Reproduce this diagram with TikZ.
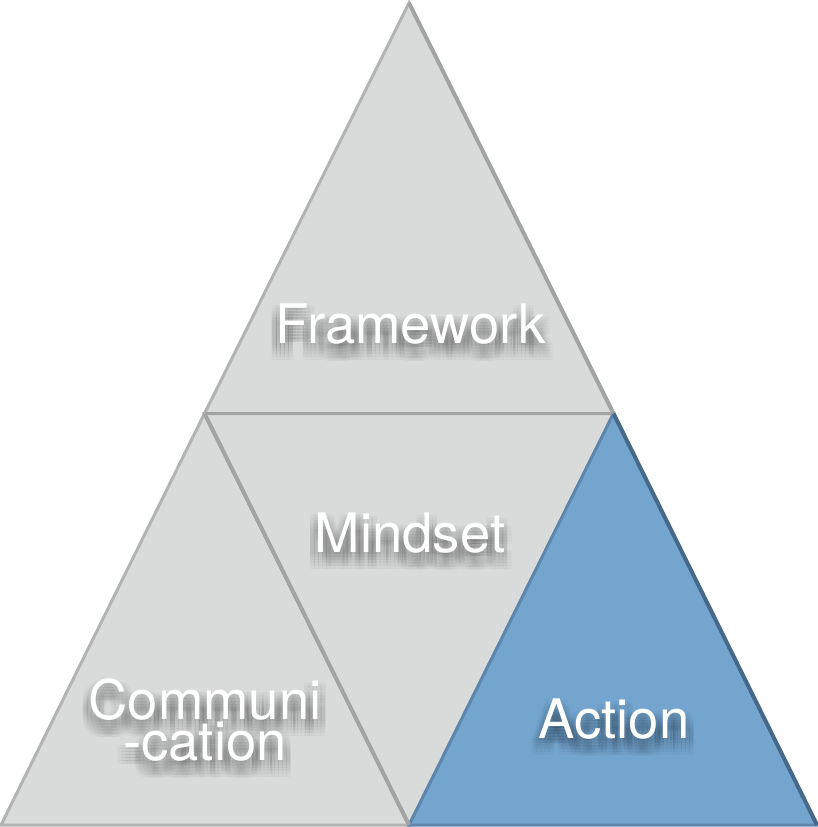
\documentclass[tikz,border=0pt]{standalone}
\usepackage{fontspec}
\setmainfont{TeX Gyre Heros}
\usetikzlibrary{calc}
\definecolor{tgray}{HTML}{D9DBDA}
\definecolor{tedge}{HTML}{B2B3B3}
\definecolor{tedgedark}{HTML}{A2A3A3}
\definecolor{tblue}{HTML}{74A5CF}
\definecolor{bedge}{HTML}{5D86AD}
\definecolor{bedgedark}{HTML}{46698A}
\tikzset{
  tri/.style={fill=tgray, draw=tedge, line width=3pt, line join=miter},
  btri/.style={fill=tblue, draw=bedge, line width=3pt, line join=miter},
  lbl/.style={text=white, font=\fontsize{54.5}{39}\selectfont, align=center, inner sep=0pt},
  shd/.style={lbl, text=black, opacity=0.022},
}
\begin{document}
\begin{tikzpicture}[x=1pt,y=-1pt]
\useasboundingbox (0,0) rectangle (818,827);
\coordinate (A) at (409,3);
\coordinate (B) at (204.5,413.5);
\coordinate (C) at (613.5,413.5);
\coordinate (D) at (1,825);
\coordinate (E) at (409,825);
\coordinate (F) at (817,825);
% triangles
\draw[tri] (A) -- (B) -- (C) -- cycle;
\draw[tri] (B) -- (D) -- (E) -- cycle;
\draw[tri] (B) -- (C) -- (E) -- cycle;
\draw[btri] (C) -- (E) -- (F) -- cycle;
% darker right edges (bevel)
\draw[tedgedark, line width=4pt] (A) -- (C);
\draw[tedgedark, line width=4pt] (B) -- (E);
\draw[tedgedark, line width=3pt] (B) -- (C);
\draw[bedgedark, line width=4pt] (C) -- (F);
% label positions
\coordinate (pF) at (410.5,324);
\coordinate (pM) at (410,533);
\coordinate (pC) at (205,720);
\coordinate (pA) at (614,719);
% soft drop shadows
\foreach \dx [count=\i] in {-8,-4,0,4,8}{
  \foreach \dy [count=\j] in {2,5,8,11,14,17}{
    \node[shd] (sF\i\j) at ($(pF)+(\dx,\dy)$) {Framework};
    \node[shd] (sM\i\j) at ($(pM)+(\dx,\dy)$) {Mindset};
    \node[shd] (sC\i\j) at ($(pC)+(\dx,\dy)$) {Communi\\-cation};
    \node[shd] (sA\i\j) at ($(pA)+(\dx,\dy)$) {Action};
  }
}
% labels
\node[lbl] (framework) at (pF) {Framework};
\node[lbl] (mindset) at (pM) {Mindset};
\node[lbl] (communication) at (pC) {Communi\\-cation};
\node[lbl] (action) at (pA) {Action};
\end{tikzpicture}
\end{document}
